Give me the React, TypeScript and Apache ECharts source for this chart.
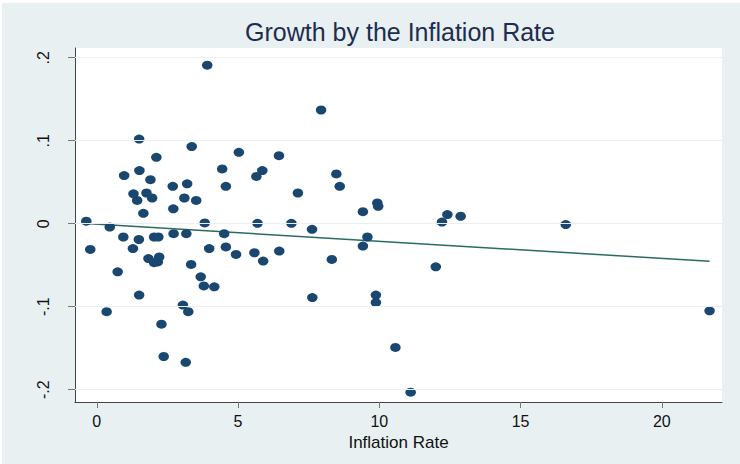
import React, { useEffect, useRef } from "react";
import * as echarts from "echarts";

// Inflation rate (x) and growth (y) per observation
const inflation = [
  -0.37, -0.23, 0.35, 0.46, 0.74, 0.94, 0.97, 1.28, 1.3, 1.43,
  1.49, 1.5, 1.5, 1.51, 1.65, 1.76, 1.83, 1.9, 1.96, 2.03,
  2.03, 2.11, 2.16, 2.18, 2.21, 2.29, 2.37, 2.69, 2.71, 2.72,
  3.05, 3.1, 3.15, 3.17, 3.2, 3.24, 3.34, 3.36, 3.52, 3.68,
  3.79, 3.82, 3.91, 3.98, 4.16, 4.44, 4.51, 4.57, 4.57, 4.93,
  5.03, 5.58, 5.65, 5.69, 5.86, 5.89, 6.45, 6.46, 6.89, 7.12,
  7.62, 7.63, 7.94, 8.32, 8.48, 8.6, 9.42, 9.42, 9.58, 9.88,
  9.88, 9.93, 9.96, 10.57, 11.11, 12.0, 12.22, 12.41, 12.88, 16.6,
  21.69,
];
const growth = [
  0.003, -0.031, -0.106, -0.004, -0.058, -0.016, 0.058, -0.03, 0.036, 0.028,
  -0.019, 0.102, -0.086, 0.064, 0.0125, 0.037, -0.042, 0.053, 0.031, -0.016,
  -0.047, 0.08, -0.046, -0.016, -0.04, -0.121, -0.16, 0.045, 0.018, -0.012,
  -0.098, 0.031, -0.167, -0.012, 0.048, -0.106, -0.049, 0.093, 0.028, -0.064,
  -0.075, 0.001, 0.191, -0.03, -0.076, 0.066, -0.012, 0.045, -0.028, -0.037,
  0.086, -0.035, 0.057, 0.0005, 0.064, -0.045, 0.082, -0.033, 0.0005, 0.037,
  -0.0068, -0.089, 0.137, -0.043, 0.06, 0.045, 0.0145, -0.027, -0.016, -0.086,
  -0.095, 0.025, 0.021, -0.149, -0.203, -0.052, 0.002, 0.011, 0.009, -0.001,
  -0.105,
];

// Fitted line endpoints
const fitX = [-0.37, 21.69];
const fitY = [0.0003, -0.0453];

const xTicks = [0, 5, 10, 15, 20];
const yTicks = [-0.2, -0.1, 0, 0.1, 0.2];
const yTickLabels = ["-.2", "-.1", "0", ".1", ".2"];

const FONT = "'Liberation Sans', Arial, Helvetica, sans-serif";

export default function App() {
  const ref = useRef<HTMLDivElement>(null);

  useEffect(() => {
    if (!ref.current) return;
    const chart = echarts.init(ref.current, undefined, { renderer: "svg" });
    const points = inflation.map((x, i) => [x, growth[i]]);
    const fit = fitX.map((x, i) => [x, fitY[i]]);

    chart.setOption({
      animation: false,
      backgroundColor: "#e9f0f2",
      textStyle: { fontFamily: FONT },
      title: {
        text: "Growth by the Inflation Rate",
        left: 398,
        top: 16,
        padding: 0,
        textAlign: "center",
        textStyle: {
          fontFamily: FONT,
          fontSize: 25,
          fontWeight: "normal",
          color: "#1c2d4f",
        },
      },
      grid: {
        left: 73,
        right: 18,
        top: 45,
        bottom: 62,
        show: true,
        backgroundColor: "#ffffff",
        borderWidth: 0,
        containLabel: false,
      },
      xAxis: {
        type: "value",
        min: -0.77,
        max: 22.13,
        name: "Inflation Rate",
        nameLocation: "middle",
        nameGap: 25,
        nameTextStyle: { fontFamily: FONT, fontSize: 17, color: "#111" },
        axisLine: { show: true, onZero: false, lineStyle: { color: "#444", width: 1 } },
        axisTick: {
          show: true,
          length: 6,
          customValues: xTicks,
          lineStyle: { color: "#777" },
        },
        axisLabel: {
          customValues: xTicks,
          margin: 11,
          fontFamily: FONT,
          fontSize: 16,
          color: "#111",
        },
        splitLine: { show: false },
      },
      yAxis: {
        type: "value",
        min: -0.2148,
        max: 0.2117,
        axisLine: { show: true, onZero: false, lineStyle: { color: "#444", width: 1 } },
        axisTick: {
          show: true,
          length: 7,
          customValues: yTicks,
          lineStyle: { color: "#777" },
        },
        axisLabel: {
          customValues: yTicks,
          rotate: 90,
          margin: 24,
          fontFamily: FONT,
          fontSize: 16,
          color: "#111",
          formatter: (v: number) => {
            const i = yTicks.findIndex((t) => Math.abs(t - v) < 1e-9);
            return i >= 0 ? yTickLabels[i] : "";
          },
        },
        splitLine: { show: false },
      },
      series: [
        {
          type: "line",
          data: fit,
          z: 1,
          symbol: "none",
          silent: true,
          lineStyle: { color: "#2b6b60", width: 1.5 },
          markLine: {
            silent: true,
            symbol: "none",
            label: { show: false },
            lineStyle: { color: "#e8f0f1", width: 1.2, type: "solid" },
            data: yTicks.map((t) => ({ yAxis: t })),
          },
        },
        {
          type: "scatter",
          data: points,
          z: 3,
          symbol: "circle",
          symbolSize: [10.5, 9],
          itemStyle: { color: "#1a476f", opacity: 1 },
        },
      ],
    });

    return () => chart.dispose();
  }, []);

  return (
    <div
      style={{
        position: "fixed",
        left: 0,
        top: 0,
        width: 740,
        height: 464,
        background: "#ffffff",
      }}
    >
      <div
        ref={ref}
        style={{ position: "absolute", left: 2, top: 3, width: 738, height: 461 }}
      />
    </div>
  );
}
